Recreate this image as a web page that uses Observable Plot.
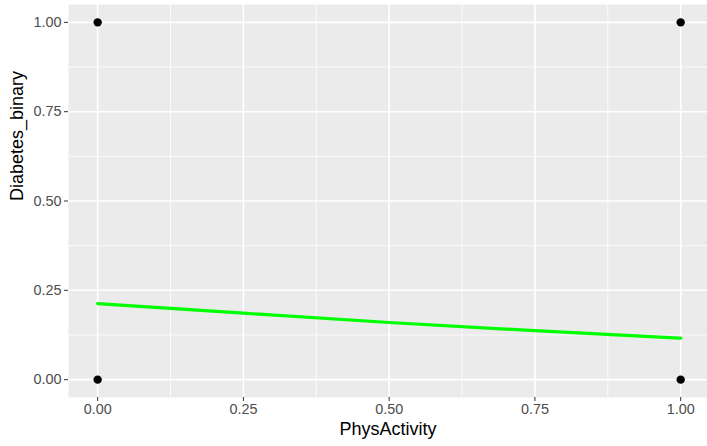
<!DOCTYPE html>
<html><head><meta charset="utf-8">
<script src="https://cdn.jsdelivr.net/npm/d3@7"></script>
<script src="https://cdn.jsdelivr.net/npm/@observablehq/plot@0.6"></script>
<style>
body{margin:0;background:#fff}
svg g[aria-label="x-axis tick label"], svg g[aria-label="y-axis tick label"],
svg g[aria-label="x-axis tick label"] text, svg g[aria-label="y-axis tick label"] text { font-size: 14.4px !important; fill: #4D4D4D; }
svg g[aria-label="x-axis label"], svg g[aria-label="x-axis label"] text { font-size: 18px !important; fill: #000; }
</style>
</head><body><div id="chart"></div>
<script>
const pointX = [0, 0, 1, 1];
const pointY = [0, 1, 0, 1];
const fitX = [0, 0.25, 0.5, 0.75, 1];
const fitY = [0.213, 0.186, 0.160, 0.137, 0.116];
const majorTicks = [0, 0.25, 0.5, 0.75, 1];
const minorTicks = [0.125, 0.375, 0.625, 0.875];
const xLabel = "PhysActivity";
const yLabel = "Diabetes_binary";

const points = pointX.map((x, i) => ({x, y: pointY[i]}));
const fit = fitX.map((x, i) => ({x, y: fitY[i]}));

const chart = Plot.plot({
  width: 707, height: 446,
  marginLeft: 68, marginTop: 4, marginRight: 0, marginBottom: 49,
  style: {fontFamily: "Liberation Sans, Arial, sans-serif", background: "#fff"},
  x: {domain: [-0.05, 1.046]},
  y: {domain: [-0.05, 1.05]},
  marks: [
    Plot.frame({fill: "#EBEBEB", stroke: null}),
    Plot.gridX(minorTicks, {stroke: "#fff", strokeOpacity: 1, strokeWidth: 0.8}),
    Plot.gridY(minorTicks, {stroke: "#fff", strokeOpacity: 1, strokeWidth: 0.8}),
    Plot.gridX(majorTicks, {stroke: "#fff", strokeOpacity: 1, strokeWidth: 1.6}),
    Plot.gridY(majorTicks, {stroke: "#fff", strokeOpacity: 1, strokeWidth: 1.6}),
    Plot.axisX(majorTicks, {tickFormat: d3.format(".2f"), tickSize: 4, tickPadding: 2, stroke: "#333", fill: "#4D4D4D", fontSize: 14.4, label: xLabel, labelAnchor: "center", labelArrow: "none", labelOffset: 37}),
    Plot.axisY(majorTicks, {tickFormat: d3.format(".2f"), tickSize: 4, tickPadding: 3, stroke: "#333", fill: "#4D4D4D", fontSize: 14.4, label: null}),
    Plot.text([yLabel], {frameAnchor: "left", dx: -51, rotate: -90, fontSize: 18, fill: "#000"}),
    Plot.dot(points, {x: "x", y: "y", r: 4.2, fill: "#000", stroke: null}),
    Plot.line(fit, {x: "x", y: "y", stroke: "#00FF00", strokeWidth: 3.2, curve: "monotone-x"})
  ]
});
document.getElementById("chart").append(chart);
</script></body></html>
